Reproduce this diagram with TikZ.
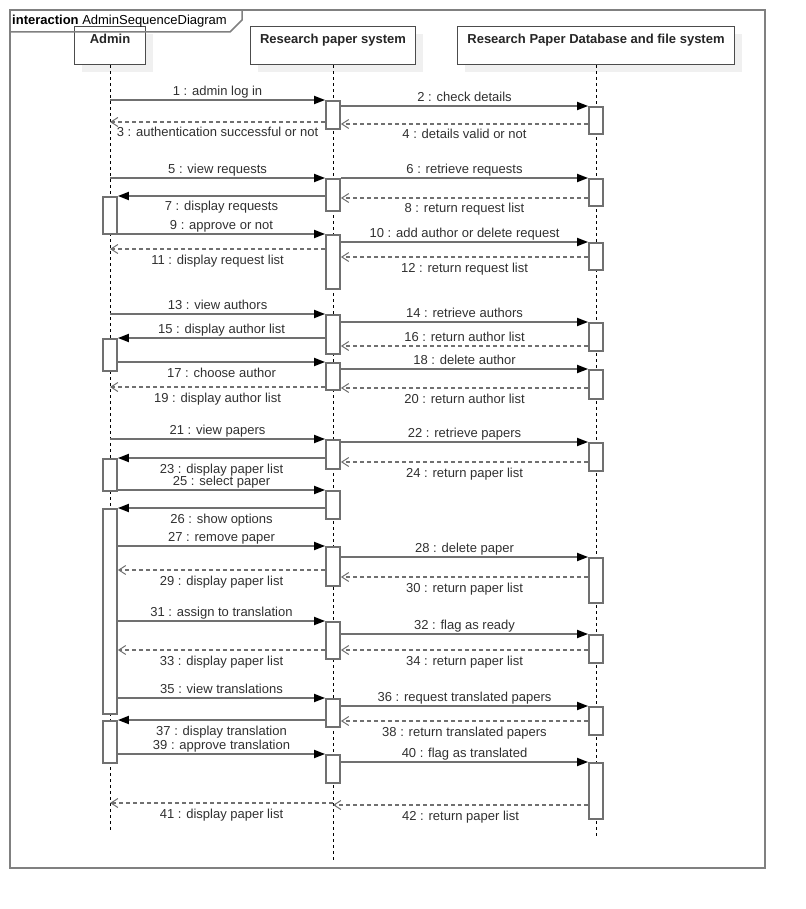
\documentclass[tikz,border=0pt]{standalone}
\usepackage{fontspec}
\setmainfont{Liberation Sans}
\usepackage{xcolor}
\definecolor{linecolor}{HTML}{707070}
\definecolor{framecolor}{HTML}{808080}
\definecolor{textcolor}{HTML}{303030}
\definecolor{shadowcolor}{HTML}{F0F0F0}
\usetikzlibrary{arrows.meta, shadows}

\begin{document}
\begin{tikzpicture}[
  x=1pt, y=-1pt,
  head/.style={draw=black!70, line width=1.3pt, fill=white, minimum width=#1,
    minimum height=38pt, anchor=north, inner ysep=2pt, text height=15pt, text depth=19pt,
    font=\bfseries\fontsize{13}{15}\selectfont, text=black!85,
    drop shadow={shadow xshift=7.5pt, shadow yshift=-7.5pt, fill=shadowcolor, opacity=1}},
  act/.style={draw=linecolor, line width=1.8pt, fill=white, minimum width=14pt,
    minimum height=#1, inner sep=0pt, anchor=north},
  life/.style={draw=black, line width=0.9pt, dash pattern=on 3pt off 3pt},
  call/.style={draw=linecolor, line width=1.8pt, -{Triangle[length=11pt, width=8pt, black]}},
  ret/.style={draw=linecolor, line width=1.5pt, dash pattern=on 4pt off 3pt,
    -{Straight Barb[length=7pt, width=9pt, line width=1pt]}},
  lbl/.style={midway, anchor=base, inner sep=0pt,
    font=\fontsize{13}{15}\selectfont, text=textcolor},
  lblA/.style={lbl, yshift=4.5pt},
  lblB/.style={lbl, yshift=-15pt},
  frame/.style={draw=framecolor, line width=1.5pt}
]
\useasboundingbox (0,0) rectangle (805,909);

% interaction frame
\draw[frame] (10,10) rectangle (765,868);

% lifeline heads
\node[head=71pt] (admin) at (110,26) {Admin};
\node[head=165pt] (sys) at (333,26) {Research paper system};
\node[head=277pt] (db) at (596,26) {Research Paper Database and file system};

% lifelines
\draw[life] (admin.south) -- ++(0,766);
\draw[life] (sys.south) -- ++(0,796);
\draw[life] (db.south) -- ++(0,771);

% activations - Admin
\node[act=37pt] (a1) at (admin |- 0,196) {};
\node[act=32pt] (a2) at (admin |- 0,338) {};
\node[act=32pt] (a3) at (admin |- 0,458) {};
\node[act=205pt] (a4) at (admin |- 0,508) {};
\node[act=42pt] (a5) at (admin |- 0,720) {};

% activations - Research paper system
\node[act=28pt] (s1) at (sys |- 0,100) {};
\node[act=32pt] (s2) at (sys |- 0,178) {};
\node[act=54pt] (s3) at (sys |- 0,234) {};
\node[act=39pt] (s4) at (sys |- 0,314) {};
\node[act=27pt] (s5) at (sys |- 0,362) {};
\node[act=29pt] (s6) at (sys |- 0,439) {};
\node[act=28pt] (s7) at (sys |- 0,490) {};
\node[act=39pt] (s8) at (sys |- 0,546) {};
\node[act=37pt] (s9) at (sys |- 0,621) {};
\node[act=28pt] (s10) at (sys |- 0,698) {};
\node[act=28pt] (s11) at (sys |- 0,754) {};

% activations - database
\node[act=27pt] (d1) at (db |- 0,106) {};
\node[act=27pt] (d2) at (db |- 0,178) {};
\node[act=27pt] (d3) at (db |- 0,242) {};
\node[act=28pt] (d4) at (db |- 0,322) {};
\node[act=29pt] (d5) at (db |- 0,369) {};
\node[act=28pt] (d6) at (db |- 0,442) {};
\node[act=45pt] (d7) at (db |- 0,557) {};
\node[act=28pt] (d8) at (db |- 0,634) {};
\node[act=28pt] (d9) at (db |- 0,706) {};
\node[act=56pt] (d10) at (db |- 0,762) {};

% log in
\draw[call] (admin |- s1.north) -- (s1.north west) node[lblA] {1 : admin log in};
\draw[call] (s1.east |- d1.north) -- (d1.north west) node[lblA] {2 : check details};
\draw[ret] (s1.west |- 0,122) -- (admin |- 0,122) node[lblB] {3 : authentication successful or not};
\draw[ret] (d1.west |- 0,124) -- (s1.east |- 0,124) node[lblB] {4 : details valid or not};

% requests
\draw[call] (admin |- s2.north) -- (s2.north west) node[lblA] {5 : view requests};
\draw[call] (s2.north east) -- (d2.north west) node[lblA] {6 : retrieve requests};
\draw[call] (s2.west |- a1.north) -- (a1.north east) node[lblB] {7 : display requests};
\draw[ret] (d2.west |- 0,198) -- (s2.east |- 0,198) node[lblB] {8 : return request list};
\draw[call] (a1.east |- s3.north) -- (s3.north west) node[lblA] {9 : approve or not};
\draw[call] (s3.east |- d3.north) -- (d3.north west) node[lblA] {10 : add author or delete request};
\draw[ret] (s3.west |- 0,249) -- (admin |- 0,249) node[lblB] {11 : display request list};
\draw[ret] (d3.west |- 0,257) -- (s3.east |- 0,257) node[lblB] {12 : return request list};

% authors
\draw[call] (admin |- s4.north) -- (s4.north west) node[lblA] {13 : view authors};
\draw[call] (s4.east |- d4.north) -- (d4.north west) node[lblA] {14 : retrieve authors};
\draw[call] (s4.west |- a2.north) -- (a2.north east) node[lblA] {15 : display author list};
\draw[ret] (d4.west |- 0,346) -- (s4.east |- 0,346) node[lblA] {16 : return author list};
\draw[call] (a2.east |- s5.north) -- (s5.north west) node[lblB] {17 : choose author};
\draw[call] (s5.east |- d5.north) -- (d5.north west) node[lblA] {18 : delete author};
\draw[ret] (s5.west |- 0,387) -- (admin |- 0,387) node[lblB] {19 : display author list};
\draw[ret] (d5.west |- 0,388) -- (s5.east |- 0,388) node[lblB] {20 : return author list};

% papers
\draw[call] (admin |- s6.north) -- (s6.north west) node[lblA] {21 : view papers};
\draw[call] (s6.east |- d6.north) -- (d6.north west) node[lblA] {22 : retrieve papers};
\draw[call] (s6.west |- a3.north) -- (a3.north east) node[lblB] {23 : display paper list};
\draw[ret] (d6.west |- 0,462) -- (s6.east |- 0,462) node[lblB] {24 : return paper list};
\draw[call] (a3.east |- s7.north) -- (s7.north west) node[lblA] {25 : select paper};
\draw[call] (s7.west |- a4.north) -- (a4.north east) node[lblB] {26 : show options};
\draw[call] (a4.east |- s8.north) -- (s8.north west) node[lblA] {27 : remove paper};
\draw[call] (s8.east |- d7.north) -- (d7.north west) node[lblA] {28 : delete paper};
\draw[ret] (s8.west |- 0,570) -- (a4.east |- 0,570) node[lblB] {29 : display paper list};
\draw[ret] (d7.west |- 0,577) -- (s8.east |- 0,577) node[lblB] {30 : return paper list};

% translations
\draw[call] (a4.east |- s9.north) -- (s9.north west) node[lblA] {31 : assign to translation};
\draw[call] (s9.east |- d8.north) -- (d8.north west) node[lblA] {32 : flag as ready};
\draw[ret] (s9.west |- 0,650) -- (a4.east |- 0,650) node[lblB] {33 : display paper list};
\draw[ret] (d8.west |- 0,650) -- (s9.east |- 0,650) node[lblB] {34 : return paper list};
\draw[call] (a4.east |- s10.north) -- (s10.north west) node[lblA] {35 : view translations};
\draw[call] (s10.east |- d9.north) -- (d9.north west) node[lblA] {36 : request translated papers};
\draw[call] (s10.west |- a5.north) -- (a5.north east) node[lblB] {37 : display translation};
\draw[ret] (d9.west |- 0,721) -- (s10.east |- 0,721) node[lblB] {38 : return translated papers};
\draw[call] (a5.east |- s11.north) -- (s11.north west) node[lblA] {39 : approve translation};
\draw[call] (s11.east |- d10.north) -- (d10.north west) node[lblA] {40 : flag as translated};
\draw[ret] (sys |- 0,803) -- (admin |- 0,803) node[lblB] {41 : display paper list};
\draw[ret] (d10.west |- 0,805) -- (sys |- 0,805) node[lblB] {42 : return paper list};

% frame tab
\draw[frame] (10,32) -- (230,32) -- (242,20) -- (242,10);
\node[anchor=base west, inner sep=0pt, font=\fontsize{13}{15}\selectfont] (title) at (12,24.5)
  {\textbf{interaction} AdminSequenceDiagram};

\end{tikzpicture}
\end{document}
